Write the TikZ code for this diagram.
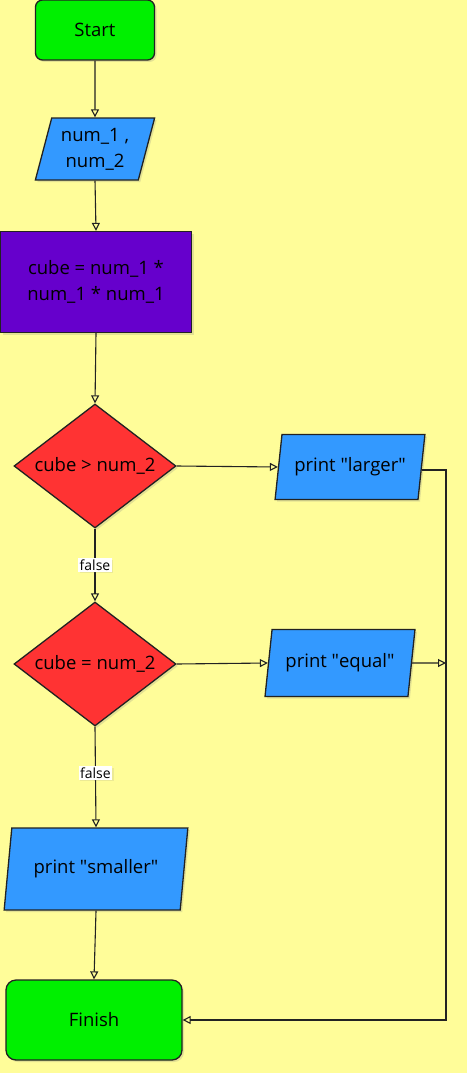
\documentclass[tikz,border=0pt]{standalone}
\usepackage{fontspec}
\setmainfont{Open Sans}
\usetikzlibrary{shapes.geometric,arrows.meta,shadows}
\definecolor{bgyellow}{HTML}{FFFD99}
\definecolor{termgreen}{HTML}{00F000}
\definecolor{ioblue}{HTML}{3399FF}
\definecolor{procpurple}{HTML}{6600CC}
\definecolor{decred}{HTML}{FF3333}
\definecolor{ink}{HTML}{222222}
\tikzset{
  shad/.style={drop shadow={opacity=0.22,shadow xshift=2pt,shadow yshift=-2pt}},
  term/.style={draw=ink,line width=1.3pt,fill=termgreen,rounded corners=7pt,shad,
    inner sep=0pt,font=\fontsize{18.5}{22}\selectfont},
  proc/.style={draw=ink,line width=1.3pt,fill=procpurple,shad,inner sep=0pt,
    align=center,font=\fontsize{18.5}{26}\selectfont},
  io/.style={draw=ink,line width=1.3pt,fill=ioblue,shad,trapezium,
    trapezium left angle=73,trapezium right angle=107,trapezium stretches=true,
    inner sep=0pt,align=center,font=\fontsize{18.5}{26}\selectfont},
  dec/.style={draw=ink,line width=1.3pt,fill=decred,shad,diamond,inner sep=0pt,
    minimum width=162pt,minimum height=124pt},
  dectext/.style={font=\fontsize{18.5}{22}\selectfont},
  arr/.style={draw=ink,line width=1.1pt,-{Triangle[open,length=8pt,width=8pt]}},
  lbl/.style={fill=white,inner sep=1.5pt,font=\fontsize{14}{16}\selectfont,
    drop shadow={opacity=0.15,shadow xshift=1.5pt,shadow yshift=-1.5pt}}
}
\begin{document}
\begin{tikzpicture}[x=1pt,y=-1pt]
\fill[bgyellow] (0,0) rectangle (467,1073);
\useasboundingbox (0,0) rectangle (467,1073);

\node[term,minimum width=119pt,minimum height=60pt] (start) at (95,30) {Start};
\node[io,minimum width=120pt,minimum height=62pt] (in1) at (95,149) {num\_1 ,\\num\_2};
\node[proc,minimum width=191pt,minimum height=101pt] (cube) at (96,282) {cube = num\_1 *\\num\_1 * num\_1};
\node[dec] (d1) at (95,466) {};
\node[dectext] (d1t) at (d1) {cube > num\_2};
\node[io,minimum width=150pt,minimum height=65pt] (larger) at (350,467) {print \textquotedbl larger\textquotedbl};
\node[dec] (d2) at (95,664) {};
\node[dectext] (d2t) at (d2) {cube = num\_2};
\node[io,minimum width=150pt,minimum height=67pt] (equal) at (340,663) {print \textquotedbl equal\textquotedbl};
\node[io,minimum width=184pt,minimum height=82pt] (smaller) at (96,869) {print \textquotedbl smaller\textquotedbl};
\node[term,minimum width=176pt,minimum height=80pt,rounded corners=10pt] (finish) at (94,1020) {Finish};

\coordinate (r1) at (446,470);
\coordinate (r2) at (446,663);

\draw[arr] (start.south) -- (in1.north);
\draw[arr] (in1.south) -- (cube.north);
\draw[arr] (cube.south) -- (d1.north);
\draw[arr] (d1.east) -- (larger.west);
\draw[arr] (d1.south) -- node[lbl] {false} (d2.north);
\draw[arr] (d2.east) -- (equal.west);
\draw[arr] (d2.south) -- node[lbl,pos=0.46] {false} (smaller.north);
\draw[arr] (smaller.south) -- (finish.north);
\draw[arr] (equal.east) -- (r2);
\draw[arr] (larger.east |- r1) -- (r1) |- (finish.east);
\end{tikzpicture}
\end{document}
